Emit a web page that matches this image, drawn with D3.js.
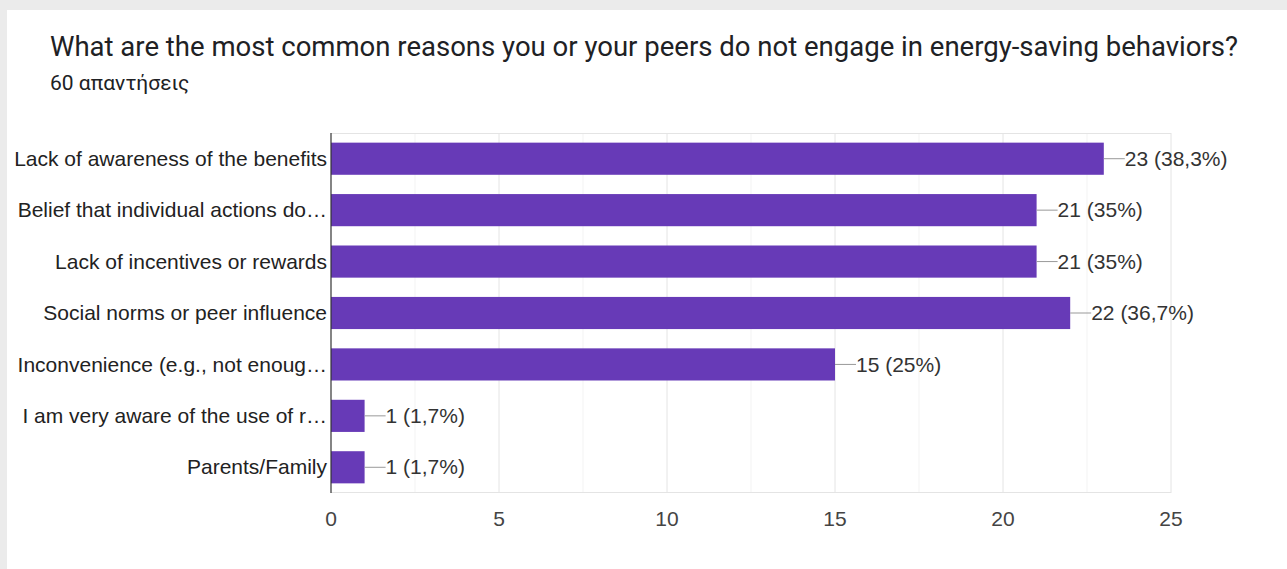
<!DOCTYPE html>
<html><head><meta charset="utf-8">
<script src="https://cdn.jsdelivr.net/npm/d3@7"></script>
<style>
html,body{margin:0;padding:0;background:#ebebeb;}
svg{display:block;}
</style></head>
<body>
<svg id="chart" width="1287" height="569"></svg>
<script>
const title = "What are the most common reasons you or your peers do not engage in energy-saving behaviors?";
const subtitle = "60 απαντήσεις";
const categories = [
  "Lack of awareness of the benefits",
  "Belief that individual actions do…",
  "Lack of incentives or rewards",
  "Social norms or peer influence",
  "Inconvenience (e.g., not enoug…",
  "I am very aware of the use of r…",
  "Parents/Family"
];
const values = [23, 21, 21, 22, 15, 1, 1];
const valueLabels = ["23 (38,3%)", "21 (35%)", "21 (35%)", "22 (36,7%)", "15 (25%)", "1 (1,7%)", "1 (1,7%)"];
const majorTicks = [0, 5, 10, 15, 20, 25];
const minorTicks = [2.5, 7.5, 12.5, 17.5, 22.5];

(function () {
const svg = d3.select("#chart");
svg.append("rect").attr("x", 7).attr("y", 10).attr("width", 1280).attr("height", 559).attr("fill", "#fff");

svg.append("text").attr("x", 50).attr("y", 56)
  .attr("font-family", "Roboto, sans-serif").attr("font-size", 27.5).attr("fill", "#202124")
  .attr("textLength", 1188).attr("lengthAdjust", "spacingAndGlyphs")
  .text(title);
svg.append("text").attr("x", 50).attr("y", 90)
  .attr("font-family", "Roboto, sans-serif").attr("font-size", 21).attr("fill", "#202124")
  .text(subtitle);

const pL = 331, pR = 1171, pT = 133, pB = 493;
const x = d3.scaleLinear().domain([0, 25]).range([pL, pR]);
const y = d3.scaleBand().domain(categories).range([pT, pB]).paddingInner(0.375).paddingOuter(0.1875);

const fs = 21;
const g = svg.append("g");
g.selectAll("line.minor").data(minorTicks).join("line").attr("class", "minor")
  .attr("x1", d => x(d)).attr("x2", d => x(d)).attr("y1", pT).attr("y2", pB)
  .attr("stroke", "#f3f3f3").attr("stroke-width", 1);
g.selectAll("line.major").data(majorTicks.slice(1)).join("line").attr("class", "major")
  .attr("x1", d => x(d)).attr("x2", d => x(d)).attr("y1", pT).attr("y2", pB)
  .attr("stroke", "#e4e4e4").attr("stroke-width", 1);
g.append("line").attr("x1", pL).attr("x2", pR).attr("y1", pT + 0.5).attr("y2", pT + 0.5)
  .attr("stroke", "#e4e4e4");
g.append("line").attr("x1", pL).attr("x2", pR).attr("y1", pB - 0.5).attr("y2", pB - 0.5)
  .attr("stroke", "#e4e4e4");

g.selectAll("rect.bar").data(values).join("rect").attr("class", "bar")
  .attr("x", x(0)).attr("y", (d, i) => y(categories[i]))
  .attr("width", d => x(d) - x(0)).attr("height", y.bandwidth())
  .attr("fill", "#673ab7");

g.selectAll("line.lead").data(values).join("line").attr("class", "lead")
  .attr("x1", d => x(d)).attr("x2", d => x(d) + 21)
  .attr("y1", (d, i) => y(categories[i]) + y.bandwidth() / 2)
  .attr("y2", (d, i) => y(categories[i]) + y.bandwidth() / 2)
  .attr("stroke", "#999").attr("stroke-width", 1);
g.selectAll("text.val").data(values).join("text").attr("class", "val")
  .attr("x", d => x(d) + 21).attr("y", (d, i) => y(categories[i]) + y.bandwidth() / 2)
  .attr("dy", "0.34em")
  .attr("font-family", "Liberation Sans, Arial, sans-serif").attr("font-size", fs).attr("fill", "#333")
  .text((d, i) => valueLabels[i]);

g.selectAll("text.cat").data(categories).join("text").attr("class", "cat")
  .attr("x", pL - 4).attr("y", d => y(d) + y.bandwidth() / 2)
  .attr("dy", "0.34em").attr("text-anchor", "end")
  .attr("font-family", "Liberation Sans, Arial, sans-serif").attr("font-size", fs).attr("fill", "#222")
  .text(d => d);

g.selectAll("text.tick").data(majorTicks).join("text").attr("class", "tick")
  .attr("x", d => x(d)).attr("y", 526).attr("text-anchor", "middle")
  .attr("font-family", "Liberation Sans, Arial, sans-serif").attr("font-size", fs).attr("fill", "#444")
  .text(d => d);

g.append("line").attr("x1", pL).attr("x2", pL).attr("y1", pT).attr("y2", pB)
  .attr("stroke", "#333").attr("stroke-width", 1.2);
})();
</script>
</body></html>
